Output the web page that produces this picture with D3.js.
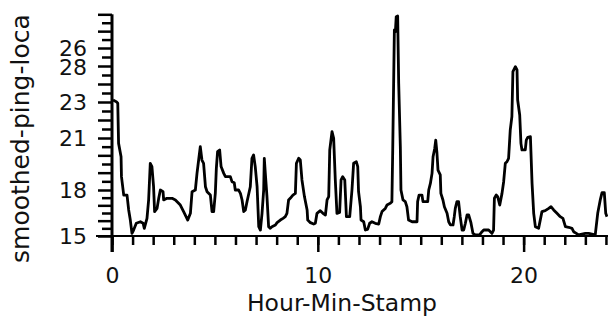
<!DOCTYPE html>
<html>
<head>
<meta charset="utf-8">
<script src="https://cdn.jsdelivr.net/npm/d3@7"></script>
<style>
  html, body { margin: 0; padding: 0; background: #fff; }
  svg { display: block; }
  text { font-family: "DejaVu Sans", "Liberation Sans", sans-serif; fill: #111; }
</style>
</head>
<body>
<svg id="chart" width="608" height="323"></svg>
<script>
// Time of day in hours
const hours = [
  0.05, 0.21, 0.28, 0.32, 0.44, 0.46, 0.57, 0.73, 0.81, 0.89, 0.97, 1.05, 1.18, 1.38, 1.51, 1.57,
  1.70, 1.78, 1.86, 1.94, 2.02, 2.07, 2.19, 2.27, 2.35, 2.48, 2.51, 2.67, 2.92, 3.08, 3.32, 3.48,
  3.68, 3.81, 3.89, 4.05, 4.13, 4.21, 4.29, 4.37, 4.45, 4.54, 4.62, 4.78, 4.86, 4.94, 5.02, 5.07,
  5.13, 5.23, 5.30, 5.43, 5.51, 5.75, 5.83, 5.94, 5.99, 6.15, 6.24, 6.32, 6.40, 6.48, 6.56, 6.72,
  6.80, 6.88, 6.96, 7.05, 7.13, 7.21, 7.29, 7.37, 7.40, 7.45, 7.53, 7.61, 7.69, 7.77, 7.94, 8.02,
  8.18, 8.31, 8.42, 8.50, 8.58, 8.66, 8.79, 8.91, 8.96, 9.07, 9.15, 9.23, 9.35, 9.48, 9.51, 9.64,
  9.80, 9.88, 9.96, 10.12, 10.25, 10.37, 10.45, 10.53, 10.58, 10.69, 10.77, 10.85, 10.93, 11.06, 11.13, 11.21,
  11.31, 11.39, 11.55, 11.66, 11.74, 11.87, 11.94, 11.98, 12.07, 12.10, 12.23, 12.31, 12.42, 12.52, 12.63, 12.79,
  12.96, 13.04, 13.12, 13.28, 13.36, 13.52, 13.60, 13.64, 13.72, 13.77, 13.81, 13.88, 13.93, 14.01, 14.04, 14.14,
  14.25, 14.33, 14.41, 14.58, 14.82, 14.85, 14.92, 15.06, 15.11, 15.34, 15.39, 15.47, 15.55, 15.60, 15.68, 15.73,
  15.79, 15.84, 15.95, 15.98, 16.08, 16.15, 16.28, 16.36, 16.44, 16.57, 16.63, 16.68, 16.76, 16.84, 16.92, 17.01,
  17.09, 17.17, 17.25, 17.33, 17.44, 17.54, 17.65, 17.86, 17.98, 18.06, 18.30, 18.46, 18.54, 18.58, 18.67, 18.74,
  18.84, 18.95, 19.03, 19.11, 19.19, 19.27, 19.35, 19.43, 19.48, 19.60, 19.68, 19.71, 19.81, 19.87, 19.92, 20.08,
  20.13, 20.20, 20.33, 20.41, 20.49, 20.57, 20.73, 20.89, 21.05, 21.22, 21.33, 21.46, 21.62, 21.78, 21.91, 22.03,
  22.19, 22.35, 22.43, 22.56, 22.67, 23.00, 23.16, 23.48, 23.60, 23.73, 23.81, 23.92, 23.99, 24.05
];

// Smoothed ping values
const ping = [
  23.11, 23.02, 22.93, 20.69, 19.92, 18.77, 17.67, 17.67, 16.70, 16.04, 15.17, 15.39, 15.83, 15.93, 15.83, 15.50,
  16.15, 17.35, 19.54, 19.35, 18.19, 16.59, 16.80, 17.46, 18.00, 17.89, 17.35, 17.46, 17.46, 17.35, 17.02, 16.59,
  16.04, 16.48, 17.89, 18.00, 18.96, 19.73, 20.50, 19.73, 19.54, 18.19, 17.89, 17.67, 16.59, 16.59, 17.78, 19.25,
  20.21, 20.31, 19.35, 18.96, 18.77, 18.77, 18.48, 18.42, 18.00, 18.00, 17.78, 17.35, 16.59, 16.70, 17.24, 18.19,
  19.83, 20.02, 19.35, 18.19, 15.61, 15.39, 16.48, 18.00, 19.83, 18.96, 17.57, 15.61, 15.50, 15.61, 15.72, 15.87,
  16.04, 16.15, 16.26, 16.48, 17.35, 17.46, 17.67, 17.78, 19.54, 19.83, 19.73, 18.58, 17.57, 16.70, 16.04, 15.87,
  15.78, 15.83, 16.48, 16.65, 16.48, 16.37, 17.35, 17.57, 20.31, 21.35, 20.98, 18.58, 16.48, 16.54, 18.58, 18.77,
  18.58, 16.26, 16.26, 18.00, 19.54, 19.63, 19.35, 17.89, 16.91, 16.04, 15.93, 15.39, 15.43, 15.83, 15.93, 15.83,
  15.78, 16.26, 16.59, 16.80, 17.02, 17.13, 17.24, 20.31, 27.07, 26.97, 27.86, 27.90, 24.04, 20.50, 18.00, 17.35,
  17.24, 16.91, 16.04, 15.93, 15.93, 17.24, 17.67, 17.67, 17.24, 17.24, 18.00, 18.38, 18.96, 19.92, 20.40, 20.88,
  20.12, 19.15, 18.87, 17.78, 17.35, 16.91, 16.48, 15.93, 15.72, 15.72, 16.26, 16.80, 17.24, 17.24, 16.26, 15.39,
  15.39, 15.83, 16.37, 16.37, 15.87, 15.17, 15.07, 15.07, 15.28, 15.39, 15.39, 15.17, 15.39, 17.46, 17.67, 17.57,
  17.02, 17.78, 18.48, 19.54, 19.63, 19.83, 21.44, 22.19, 24.69, 24.96, 24.78, 23.11, 22.28, 20.69, 20.31, 20.31,
  20.88, 21.04, 21.07, 18.38, 16.48, 15.61, 15.50, 16.59, 16.65, 16.80, 16.91, 16.70, 16.48, 16.26, 16.15, 15.61,
  15.57, 15.50, 15.28, 15.17, 15.07, 15.17, 15.17, 15.07, 16.48, 17.39, 17.83, 17.83, 16.48, 16.26
];

// Axis ticks and labels
const xMajorTicks = [0, 10, 20];
const xMinorTicks = d3.range(0, 25, 1);
const yMinorTicks = d3.range(15, 28.01, 0.5);
const yLabelValues = [15, 18, 21, 23, 24.9, 26];
const yLabelText = ["15", "18", "21", "23", "28", "26"];

const xTitle = "Hour-Min-Stamp";
const yTitle = "smoothed-ping-loca";

const svg = d3.select("#chart");
svg.append("rect").attr("width", 608).attr("height", 323).attr("fill", "#fff");

const x = d3.scaleLinear().domain([0, 24.1]).range([112, 608]);
const y = d3.scaleLinear()
  .domain([15, 18, 21, 23, 26, 28])
  .range([236, 190, 138, 102, 48, 14.3]);

const axisY0 = y(15);
const axisX0 = x(0);

// X axis: minor hourly ticks, longer major ticks
svg.append("g")
  .attr("transform", `translate(0,${axisY0})`)
  .call(d3.axisBottom(x).tickValues(xMinorTicks).tickSize(9).tickFormat(""))
  .call(g => g.select(".domain").remove())
  .call(g => g.selectAll("line").attr("stroke", "#000").attr("stroke-width", 2.5));

svg.append("g")
  .attr("transform", `translate(0,${axisY0})`)
  .call(d3.axisBottom(x).tickValues(xMajorTicks).tickSize(16).tickPadding(15).tickFormat(d3.format("d")))
  .call(g => g.select(".domain").remove())
  .call(g => g.selectAll("line").attr("stroke", "#000").attr("stroke-width", 2.5))
  .call(g => g.selectAll("text").attr("font-size", 22).attr("fill", "#111"));

svg.append("line")
  .attr("x1", axisX0 - 16).attr("x2", 608)
  .attr("y1", axisY0).attr("y2", axisY0)
  .attr("stroke", "#000").attr("stroke-width", 2);

// Y axis: alternating tick lengths, sparse labels
svg.append("g")
  .attr("transform", `translate(${axisX0},0)`)
  .call(d3.axisLeft(y).tickValues(yMinorTicks).tickFormat(""))
  .call(g => g.select(".domain").remove())
  .call(g => g.selectAll(".tick line")
    .attr("x2", d => Number.isInteger(d) ? -14 : -10)
    .attr("stroke", "#000").attr("stroke-width", 2.5));

svg.append("g")
  .attr("transform", `translate(${axisX0},0)`)
  .call(d3.axisLeft(y).tickValues(yLabelValues).tickSize(0).tickPadding(25)
    .tickFormat((d, i) => yLabelText[i]))
  .call(g => g.select(".domain").remove())
  .call(g => g.selectAll("text").attr("font-size", 22).attr("fill", "#111"));

svg.append("line")
  .attr("x1", axisX0).attr("x2", axisX0)
  .attr("y1", y(28)).attr("y2", axisY0 + 16)
  .attr("stroke", "#000").attr("stroke-width", 3);

// Ping trace
const series = hours.map((h, i) => [h, ping[i]]);
svg.append("path")
  .datum(series)
  .attr("fill", "none")
  .attr("stroke", "#000")
  .attr("stroke-width", 2.8)
  .attr("stroke-linejoin", "round")
  .attr("d", d3.line().x(d => x(d[0])).y(d => y(d[1])));

// Axis titles
svg.append("text")
  .attr("x", 342).attr("y", 311)
  .attr("text-anchor", "middle")
  .attr("font-size", 23.5)
  .text(xTitle);

svg.append("text")
  .attr("transform", "translate(29,263) rotate(-90)")
  .attr("text-anchor", "start")
  .attr("font-size", 25)
  .text(yTitle);
</script>
</body>
</html>
